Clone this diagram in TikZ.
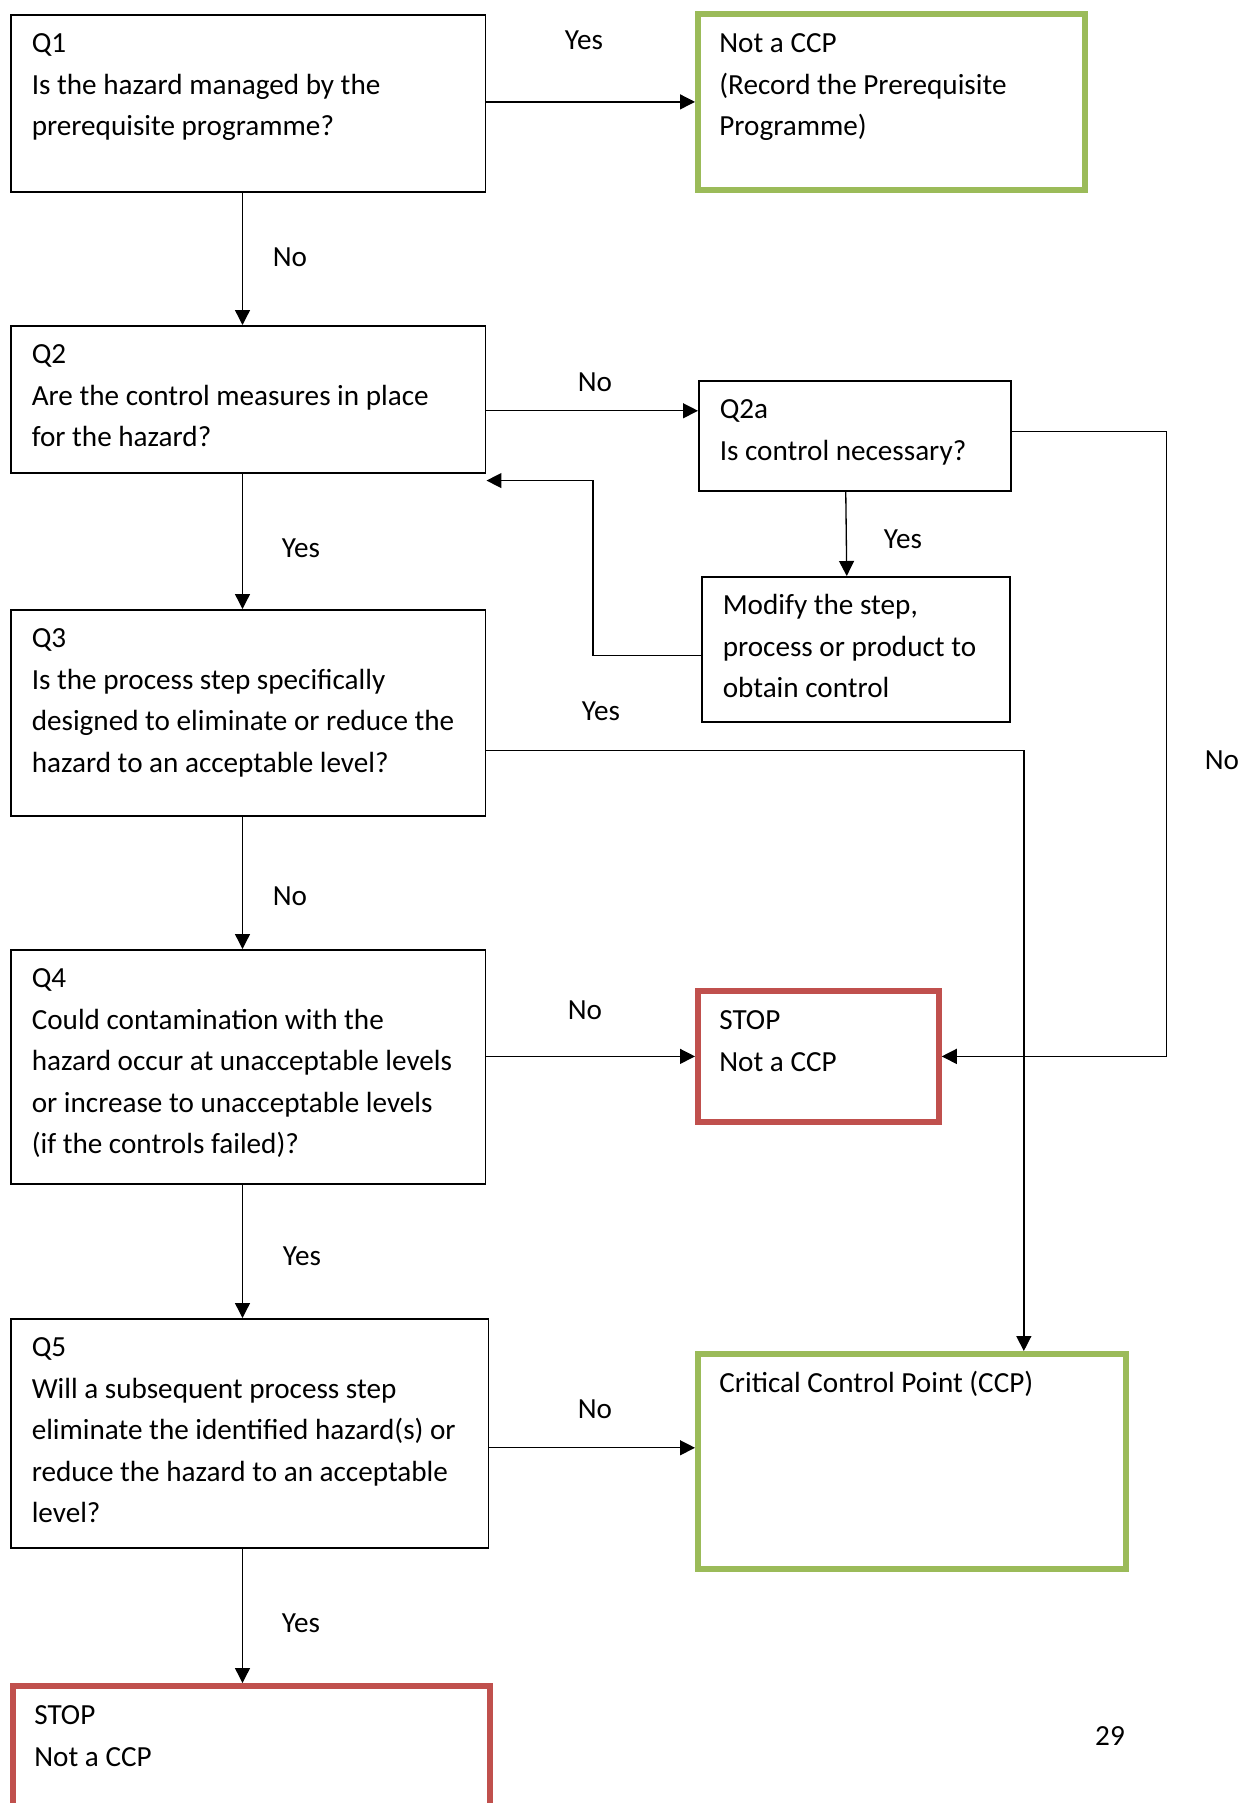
\documentclass[tikz,border=0pt]{standalone}
\usepackage{fontspec}
\setmainfont{Carlito}
\usepackage{xcolor}
\usetikzlibrary{arrows.meta}

\definecolor{ccpgreen}{HTML}{9BBB59}
\definecolor{stopred}{HTML}{C0504D}

% text block of a box: width, height, lines
\newcommand{\boxtext}[3]{\parbox[c][#2][t]{#1}{\begin{tabular}[t]{@{}l@{}}#3\end{tabular}}}

\begin{document}
\begin{tikzpicture}[x=0.02cm, y=-0.02cm,
    every node/.style={font=\fontsize{16.6}{23.6}\selectfont},
    qbox/.style={draw, line width=0.9pt, anchor=north west, inner xsep=0.42cm, inner ysep=0.18cm},
    gbox/.style={draw=ccpgreen, line width=3.3pt, anchor=north west, inner xsep=0.43cm, inner ysep=0.2cm},
    rbox/.style={gbox, draw=stopred},
    arr/.style={line width=0.75pt, -{Triangle[length=0.3cm, width=0.3cm]}}]
        \useasboundingbox (0,0) rectangle (1254,1803);
        \clip (0,0) rectangle (1254,1803);

        % left column
        \node[qbox] (q1) at (10,14) {\boxtext{8.66cm}{3.18cm}{Q1\\Is the hazard managed by the\\prerequisite programme?}};
        \node[qbox] (q2) at (10,325) {\boxtext{8.66cm}{2.58cm}{Q2\\Are the control measures in place\\for the hazard?}};
        \node[qbox] (q3) at (10,609) {\boxtext{8.66cm}{3.76cm}{Q3\\Is the process step specifically\\designed to eliminate or reduce the\\hazard to an acceptable level?}};
        \node[qbox] (q4) at (10,949) {\boxtext{8.66cm}{4.32cm}{Q4\\Could contamination with the\\hazard occur at unacceptable levels\\or increase to unacceptable levels\\(if the controls failed)?}};
        \node[qbox] (q5) at (10,1318) {\boxtext{8.72cm}{4.22cm}{Q5\\Will a subsequent process step\\eliminate the identified hazard(s) or\\reduce the hazard to an acceptable\\level?}};
        \node[rbox] (stop2) at (10,1683) {\boxtext{8.68cm}{3.0cm}{STOP\\Not a CCP}};

        % right column
        \node[gbox] (notccp) at (695,11) {\boxtext{6.88cm}{3.12cm}{Not a CCP\\(Record the Prerequisite\\Programme)}};
        \node[qbox] (q2a) at (698,380) {\boxtext{5.40cm}{1.84cm}{Q2a\\Is control necessary?}};
        \node[qbox] (modify) at (701,576) {\boxtext{5.32cm}{2.54cm}{Modify the step,\\process or product to\\obtain control}};
        \node[rbox] (stop1) at (695,988) {\boxtext{3.96cm}{2.22cm}{STOP\\Not a CCP}};
        \node[gbox] (ccp) at (695,1351) {\boxtext{7.70cm}{3.90cm}{Critical Control Point (CCP)}};

        % connectors
        \coordinate (spine) at (242.5,0);
        \draw[arr] (q1.east |- notccp.west) -- (notccp.west);
        \draw[arr] (q1.south -| spine) -- (q2.north -| spine);
        \draw[arr] ([yshift=-0.23cm]q2.east) coordinate (q2no) -- (q2no -| q2a.west);
        \draw[arr] ([xshift=-0.18cm]q2a.south) -- ([xshift=-0.18cm]modify.north);
        \draw[arr] ([yshift=-0.13cm]modify.west) -- ++(-108,0) |- ([yshift=-0.14cm]q2.south east);
        \draw[arr] (q2.south -| spine) -- (q3.north -| spine);
        \draw[arr] ([yshift=0.08cm]q2a.east) -- ++(155,0) |- (stop1.east);
        \draw[arr] ([yshift=-0.75cm]q3.east) -| ([xshift=2.24cm]ccp.north);
        \draw[arr] (q3.south -| spine) -- (q4.north -| spine);
        \draw[arr] (q4.east |- stop1.west) -- (stop1.west);
        \draw[arr] (q4.south -| spine) -- (q5.north -| spine);
        \draw[arr] ([yshift=-0.29cm]q5.east) coordinate (q5no) -- (q5no -| ccp.west);
        \draw[arr] (q5.south -| spine) -- (stop2.north -| spine);

        % answers
        \node (q1yes) at (584,40) {Yes};
        \node (q1no) at (290,257) {No};
        \node (q2no-lbl) at (595,382) {No};
        \node (q2ayes) at (903,539) {Yes};
        \node (q2yes) at (301,548) {Yes};
        \node (q2ano) at (1222,760) {No};
        \node (q3yes) at (601,711) {Yes};
        \node (q3no) at (290,896) {No};
        \node (q4no) at (585,1010) {No};
        \node (q4yes) at (302,1256) {Yes};
        \node (q5no-lbl) at (595,1409) {No};
        \node (q5yes) at (301,1623) {Yes};

        \node (pagenum) at (1110,1736) {29};
    \end{tikzpicture}
\end{document}
